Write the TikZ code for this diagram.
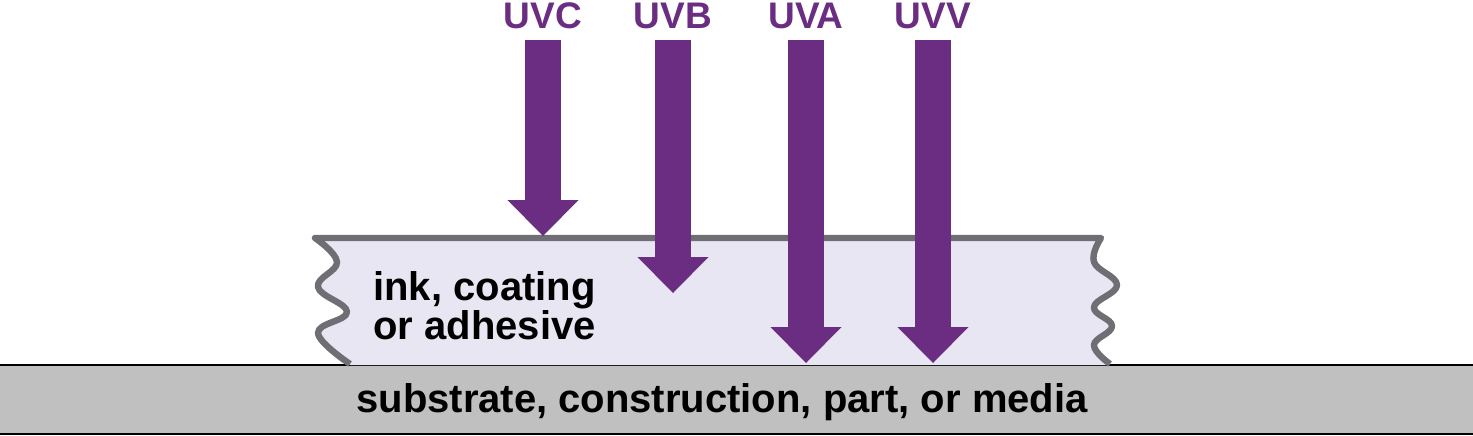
\documentclass[tikz,border=0pt]{standalone}
\usepackage{fontspec}
\setmainfont{Liberation Sans}
\usepackage{xcolor}
\usetikzlibrary{arrows.meta}
\definecolor{uvpurple}{RGB}{107,45,130}
\definecolor{inklayer}{RGB}{232,230,242}
\definecolor{inkedge}{RGB}{110,110,116}
\definecolor{substrate}{RGB}{192,192,192}

\tikzset{
  uvlabel/.style = {text=uvpurple, font=\fontsize{18.5}{18.5}\selectfont\bfseries,
                    anchor=south, inner xsep=0pt, inner ysep=5.5pt},
  uvray/.style   = {draw=uvpurple, line width=18pt,
                    -{Triangle[width=35.5pt,length=18pt,line width=0pt]}}
}

\begin{document}
\begin{tikzpicture}[x=0.5pt, y=-0.5pt]
            \useasboundingbox (0,0) rectangle (1473,435);
            % substrate
            \fill[substrate] (0,365) rectangle (1473,434);
            \draw[line width=1pt] (0,365) -- (1473,365);
            \draw[line width=1pt] (0,434) -- (1473,434);
            \node[font=\fontsize{20}{20}\selectfont\bfseries, anchor=base, inner sep=0pt]
                 (substr) at (722,412) {substrate, construction, part, or media};
            % ink layer
            \fill[inklayer] plot[smooth, tension=0.7] coordinates
                 {(315,238) (337,262) (318,287) (347,312) (318,333) (350,365)}
                 -- plot[smooth, tension=0.7] coordinates
                 {(1110,365) (1094,345) (1112,326) (1094,307) (1117,285) (1094,262) (1101,238)}
                 -- cycle;
            \draw[inkedge, line width=3.2pt, line join=round] plot[smooth, tension=0.7] coordinates
                 {(350,364) (318,333) (347,312) (318,287) (337,262) (315,238)}
                 -- (1101,238)
                 -- plot[smooth, tension=0.7] coordinates
                 {(1101,238) (1094,262) (1117,285) (1094,307) (1112,326) (1094,345) (1110,364)};
            \node[font=\fontsize{20}{17.5}\selectfont\bfseries, align=left, anchor=north west, inner sep=0pt]
                 (ink) at (373,271) {ink, coating\\or adhesive};
            % rays
            \node[uvlabel] (uvc) at (543,40) {UVC};
            \node[uvlabel] (uvb) at (673,40) {UVB};
            \node[uvlabel] (uva) at (806,40) {UVA};
            \node[uvlabel] (uvv) at (933,40) {UVV};
            \coordinate (uvc tip) at (543,236);
            \coordinate (uvb tip) at (673,293);
            \coordinate (uva tip) at (806,363);
            \coordinate (uvv tip) at (933,363);
            \foreach \ray in {uvc, uvb, uva, uvv}
                \draw[uvray] (\ray.south) -- (\ray\space tip);
        \end{tikzpicture}
\end{document}
